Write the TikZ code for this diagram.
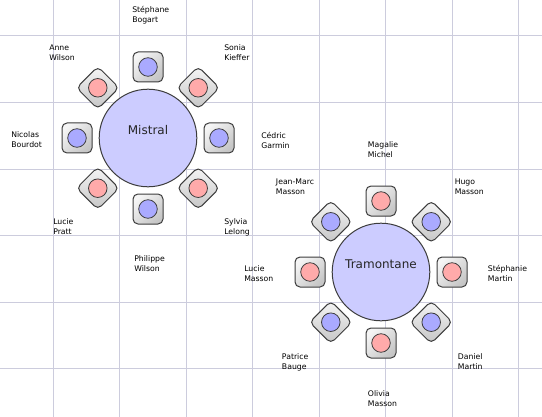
\documentclass[tikz,border=0pt]{standalone}
\usepackage{fontspec}
\setmainfont{DejaVu Sans}
\usetikzlibrary{calc}

\definecolor{gridcol}{RGB}{204,204,221}
\definecolor{tablecol}{RGB}{204,204,255}
\definecolor{blueseat}{RGB}{170,170,255}
\definecolor{pinkseat}{RGB}{255,170,170}
\definecolor{rimcol}{RGB}{60,60,60}

\tikzset{
  gridline/.style={gridcol, line width=0.75pt},
  tablebox/.style={circle, draw=rimcol, line width=0.75pt, fill=tablecol, minimum size=73.2pt, inner sep=0pt},
  tablename/.style={font=\fontsize{9}{11}\selectfont, text=black!85, inner sep=0pt},
  chair/.style={rectangle, rounded corners=3.75pt, draw=rimcol, line width=0.75pt, top color=gray!8, bottom color=gray!45, minimum size=22.5pt, inner sep=0pt},
  seat/.style={circle, draw=rimcol, line width=0.6pt, minimum size=13.9pt, inner sep=0pt},
  guest/.style={font=\fontsize{5.8}{7.5}\selectfont, align=left, anchor=north west, inner sep=0pt}
}

\begin{document}
\begin{tikzpicture}[x=0.75pt, y=-0.75pt]
    \useasboundingbox (0,0) rectangle (542,417);
    % grid
    \foreach \x in {53,119.5,...,520}{\draw[gridline] (\x,0) -- (\x,417);}
    \foreach \y in {36,102.5,...,370}{\draw[gridline] (0,\y) -- (542,\y);}

    % Mistral
    \node[tablebox] (mistral) at (148,138) {};
    \node[tablename] (mistraltxt) at (148,130) {Mistral};
    \foreach \a/\r/\c [count=\i] in {0/0/blueseat, 45/45/pinkseat, 90/0/blueseat, 135/45/pinkseat,
        180/0/blueseat, 225/45/pinkseat, 270/0/blueseat, 315/45/pinkseat}{
        \node[chair, rotate=\r, shading angle=45-\r] (mc\i) at ($(mistral)+(\a:71)$) {};
        \node[seat, fill=\c] (ms\i) at (mc\i) {};
    }

    % Tramontane
    \node[tablebox] (tramontane) at (381,272) {};
    \node[tablename] (tramontanetxt) at (381,264.5) {Tramontane};
    \foreach \a/\r/\c [count=\i] in {0/0/pinkseat, 45/45/blueseat, 90/0/pinkseat, 135/45/blueseat,
        180/0/pinkseat, 225/45/blueseat, 270/0/pinkseat, 315/45/blueseat}{
        \node[chair, rotate=\r, shading angle=45-\r] (tc\i) at ($(tramontane)+(\a:71)$) {};
        \node[seat, fill=\c] (ts\i) at (tc\i) {};
    }

    % guests of Mistral
    \node[guest] (bogart) at (132,6.5) {Stéphane\\Bogart};
    \node[guest] (annew) at (49,44.5) {Anne\\Wilson};
    \node[guest] (kieffer) at (224,44.5) {Sonia\\Kieffer};
    \node[guest] (bourdot) at (11,131.8) {Nicolas\\Bourdot};
    \node[guest] (garmin) at (261,131.8) {Cédric\\Garmin};
    \node[guest] (pratt) at (53,218.5) {Lucie\\Pratt};
    \node[guest] (lelong) at (224,218.5) {Sylvia\\Lelong};
    \node[guest] (philippew) at (134,255.5) {Philippe\\Wilson};

    % guests of Tramontane
    \node[guest] (michel) at (367.7,141.5) {Magalie\\Michel};
    \node[guest] (jeanmarc) at (275.7,178.5) {Jean-Marc\\Masson};
    \node[guest] (hugo) at (454.5,178.5) {Hugo\\Masson};
    \node[guest] (luciem) at (244,265.5) {Lucie\\Masson};
    \node[guest] (smartin) at (487.7,265.5) {Stéphanie\\Martin};
    \node[guest] (bauge) at (281.7,353.5) {Patrice\\Bauge};
    \node[guest] (dmartin) at (457.7,353.5) {Daniel\\Martin};
    \node[guest] (olivia) at (367.7,390.5) {Olivia\\Masson};
\end{tikzpicture}
\end{document}
